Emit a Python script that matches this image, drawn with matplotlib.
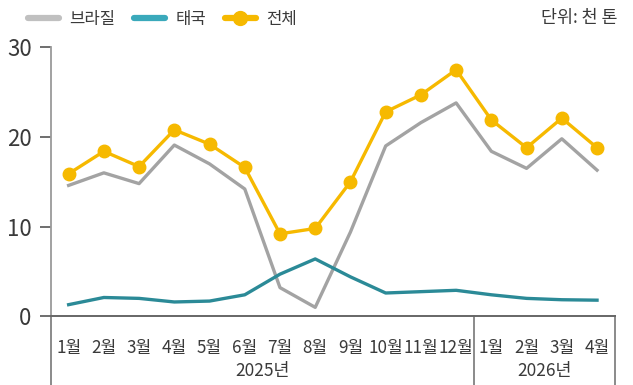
import matplotlib
matplotlib.use("Agg")
import matplotlib.pyplot as plt
import matplotlib.transforms as mtransforms
from matplotlib.lines import Line2D

plt.rcParams['font.family'] = ['Liberation Sans Narrow', 'Noto Sans CJK KR', 'DejaVu Sans']

# 월별 수입량 (천 톤)
months = ['1월', '2월', '3월', '4월', '5월', '6월', '7월', '8월', '9월', '10월', '11월', '12월',
          '1월', '2월', '3월', '4월']
years = ['2025년', '2026년']
brazil = [14.6, 16.0, 14.8, 19.1, 17.0, 14.2, 3.2, 1.0, 9.4, 19.0, 21.6, 23.8, 18.4, 16.5, 19.8, 16.3]
thailand = [1.3, 2.1, 2.0, 1.6, 1.7, 2.4, 4.7, 6.4, 4.4, 2.6, 2.75, 2.9, 2.4, 2.0, 1.85, 1.8]
total = [15.9, 18.4, 16.7, 20.8, 19.2, 16.6, 9.2, 9.8, 15.0, 22.8, 24.7, 27.5, 21.9, 18.8, 22.1, 18.8]

c_gray = '#a3a3a3'
c_teal = '#2b8a97'
c_yellow = '#f6b900'
c_text = '#3a3a3a'

fig = plt.figure(figsize=(6.33, 3.85), dpi=100)
ax = fig.add_axes([0.0806, 0.1784, 0.8904, 0.6987])

x = list(range(len(months)))
ax.plot(x, brazil, color=c_gray, lw=2.4, zorder=2)
ax.plot(x, thailand, color=c_teal, lw=2.4, zorder=3)
ax.plot(x, total, color=c_yellow, lw=2.4, marker='o', markersize=9, zorder=4)

ax.set_xlim(-0.5, len(months) - 0.5)
ax.set_ylim(0, 30)
ax.set_yticks([0, 10, 20, 30])
ax.tick_params(axis='y', length=8, width=1.2, color='#555555', labelsize=16,
               labelcolor=c_text, pad=6)
ax.set_xticks(x)
ax.set_xticklabels(months)
ax.tick_params(axis='x', length=0, labelsize=12.3, labelcolor=c_text, pad=16)

for s in ['top', 'right']:
    ax.spines[s].set_visible(False)
ax.spines['left'].set_color('#9a9a9a')
ax.spines['left'].set_linewidth(1.3)
ax.spines['bottom'].set_color('#666666')
ax.spines['bottom'].set_linewidth(1.4)

# 연도 구분선과 연도 표시
trans = mtransforms.blended_transform_factory(ax.transData, ax.transAxes)
for xv in [-0.5, 11.5, 15.5]:
    ax.plot([xv, xv], [0, -0.27], transform=trans, color='#777777', lw=1.2, clip_on=False)
ax.text(5.5, -0.205, years[0], transform=trans, ha='center', va='center',
        fontsize=12.5, color=c_text)
ax.text(13.5, -0.205, years[1], transform=trans, ha='center', va='center',
        fontsize=12.5, color=c_text)

handles = [
    Line2D([], [], color='#c0c0c0', lw=4.5, solid_capstyle='round'),
    Line2D([], [], color='#3aa9bb', lw=4.5, solid_capstyle='round'),
    Line2D([], [], color=c_yellow, lw=4.5, marker='o', markersize=10, solid_capstyle='round'),
]
fig.legend(handles, ['브라질', '태국', '전체'], loc='center left',
           bbox_to_anchor=(0.02, 0.95), ncol=3, frameon=False, fontsize=12,
           handlelength=1.9, handletextpad=0.6, columnspacing=1.1, labelcolor=c_text)

fig.text(0.975, 0.953, '단위: 천 톤', ha='right', va='center', fontsize=12.5, color=c_text)

fig.savefig('out.png', dpi=100)
